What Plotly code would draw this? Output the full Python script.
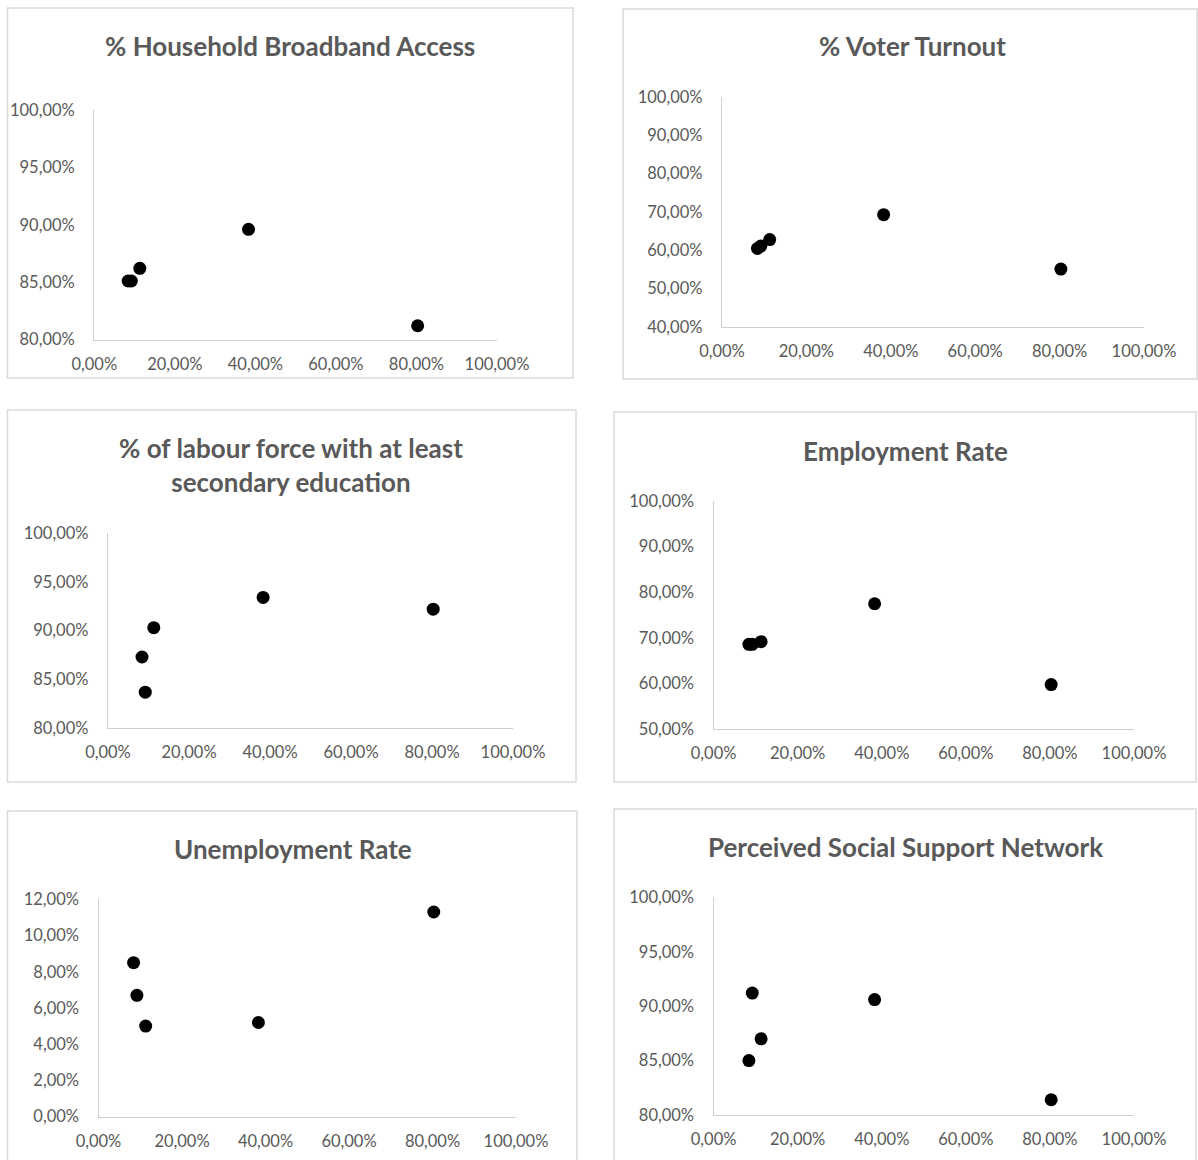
import plotly.graph_objects as go

W, H = 1198, 1160

# Share of each of the five groups (x-axis, in %)
group_share = [8.4, 9.2, 11.3, 38.3, 80.3]

# Indicator values per group (y-axis, in %)
broadband = [85.1, 85.1, 86.2, 89.6, 81.2]
voter_turnout = [60.5, 61.1, 62.8, 69.3, 55.1]
labour_secondary_edu = [87.3, 83.7, 90.3, 93.4, 92.2]
employment = [68.6, 68.6, 69.2, 77.5, 59.8]
unemployment = [8.5, 6.7, 5.0, 5.2, 11.3]
social_support = [85.0, 91.2, 87.0, 90.6, 81.4]

titles = [
    "% Household Broadband Access",
    "% Voter Turnout",
    "% of labour force with at least<br>secondary education",
    "Employment Rate",
    "Unemployment Rate",
    "Perceived Social Support Network",
]

x_tick_vals = [0, 20, 40, 60, 80, 100]
x_tick_text = ["0,00%", "20,00%", "40,00%", "60,00%", "80,00%", "100,00%"]

y_ticks_80_100 = [80, 85, 90, 95, 100]
y_text_80_100 = ["80,00%", "85,00%", "90,00%", "95,00%", "100,00%"]
y_ticks_40_100 = [40, 50, 60, 70, 80, 90, 100]
y_text_40_100 = ["40,00%", "50,00%", "60,00%", "70,00%", "80,00%", "90,00%", "100,00%"]
y_ticks_50_100 = [50, 60, 70, 80, 90, 100]
y_text_50_100 = ["50,00%", "60,00%", "70,00%", "80,00%", "90,00%", "100,00%"]
y_ticks_0_12 = [0, 2, 4, 6, 8, 10, 12]
y_text_0_12 = ["0,00%", "2,00%", "4,00%", "6,00%", "8,00%", "10,00%", "12,00%"]

series = [broadband, voter_turnout, labour_secondary_edu, employment, unemployment, social_support]
y_ticks = [y_ticks_80_100, y_ticks_40_100, y_ticks_80_100, y_ticks_50_100, y_ticks_0_12, y_ticks_80_100]
y_texts = [y_text_80_100, y_text_40_100, y_text_80_100, y_text_50_100, y_text_0_12, y_text_80_100]

# Pixel geometry of each chart: frame box, plot area, title centre
frames = [(7.5, 8, 573, 378), (623, 9, 1197, 379), (7.5, 410, 576, 782),
          (614, 412, 1196, 782), (7.5, 811, 577, 1170), (614, 809, 1196, 1170)]
areas = [(94.3, 110, 497, 339.5), (722, 97, 1144, 327), (108, 533, 513, 728.3),
         (713.6, 501, 1134, 729.3), (98.5, 899.3, 516, 1116.7), (713.6, 897.3, 1134, 1115)]
title_pos = [(290, 46), (913, 46), (291, 465), (905, 451), (293, 849), (905, 847)]

TEXT = "#595959"
FONT = "Lato"

fig = go.Figure()
layout = dict(
    width=W, height=H,
    margin=dict(l=0, r=0, t=0, b=0, autoexpand=False),
    paper_bgcolor="white", plot_bgcolor="white",
    showlegend=False,
    font=dict(family=FONT, color=TEXT, size=16),
    shapes=[], annotations=[],
)

for i in range(6):
    n = "" if i == 0 else str(i + 1)
    ax0, ay0, ax1, ay1 = areas[i]
    fig.add_trace(go.Scatter(
        x=group_share, y=series[i], mode="markers",
        xaxis="x" + n, yaxis="y" + n,
        marker=dict(size=13, color="black", line=dict(width=0)),
        cliponaxis=False, hoverinfo="x+y",
    ))
    yt = y_ticks[i]
    layout["xaxis" + n] = dict(
        domain=[ax0 / W, ax1 / W], range=[0, 100], anchor="y" + n,
        tickvals=x_tick_vals, ticktext=x_tick_text,
        showline=True, linecolor="#cfcfcf", linewidth=1.4,
        showgrid=False, zeroline=False, ticks="", ticklabelstandoff=9,
        automargin=False,
        tickfont=dict(family=FONT, color=TEXT, size=16.5), fixedrange=True,
    )
    layout["yaxis" + n] = dict(
        domain=[1 - ay1 / H, 1 - ay0 / H], range=[yt[0], yt[-1]], anchor="x" + n,
        tickvals=yt, ticktext=y_texts[i],
        showline=True, linecolor="#cfcfcf", linewidth=1.4,
        showgrid=False, zeroline=False, ticks="", ticklabelstandoff=15,
        automargin=False,
        tickfont=dict(family=FONT, color=TEXT, size=16.5), fixedrange=True,
    )
    fx0, fy0, fx1, fy1 = frames[i]
    layout["shapes"].append(dict(
        type="rect", xref="paper", yref="paper",
        x0=fx0 / W, x1=fx1 / W, y0=1 - fy1 / H, y1=1 - fy0 / H,
        line=dict(color="#d9d9d9", width=1.5), fillcolor="rgba(0,0,0,0)", layer="below",
    ))
    tx, ty = title_pos[i]
    layout["annotations"].append(dict(
        text="<b>" + titles[i] + "</b>", xref="paper", yref="paper",
        x=tx / W, y=1 - ty / H, xanchor="center", yanchor="middle",
        showarrow=False, font=dict(family=FONT, color=TEXT, size=26),
    ))

fig.update_layout(**layout)
fig.write_html("out.html")
